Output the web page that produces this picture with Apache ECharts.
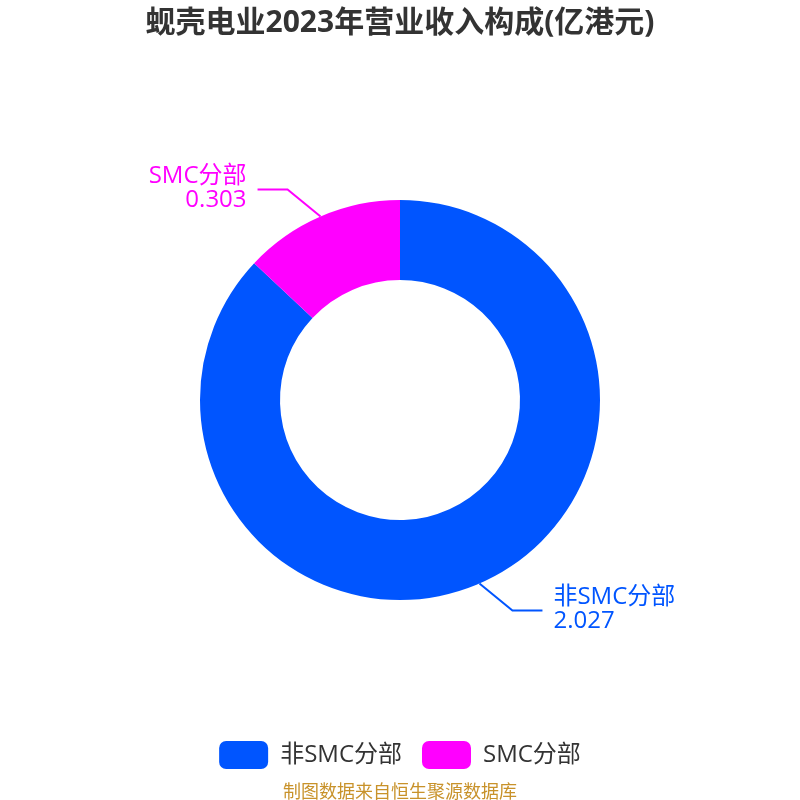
<!DOCTYPE html>
<html><head><meta charset="utf-8">
<script src="https://cdn.jsdelivr.net/npm/echarts@6/dist/echarts.min.js"></script>
<style>html,body{margin:0;padding:0;background:#fff}#c{width:800px;height:800px}</style>
</head><body><div id="c"></div>
<script>
const titleText = '蚬壳电业2023年营业收入构成(亿港元)';
const categories = ['非SMC分部', 'SMC分部'];
const values = [2.027, 0.303];
const colors = ['#0055FF', '#FF00FF'];
const sourceText = '制图数据来自恒生聚源数据库';
const FONT = '"Open Sans", "Noto Sans CJK SC", sans-serif';

const chart = echarts.init(document.getElementById('c'));
chart.setOption({
  backgroundColor: '#fff',
  animation: false,
  title: [{
    text: titleText, left: 'center', top: 3,
    textStyle: {fontSize: 30, fontWeight: 'bold', color: '#333', fontFamily: FONT}
  }, {
    text: sourceText, left: 'center', top: 778,
    textStyle: {fontSize: 18, fontWeight: 'normal', color: '#C8922A', fontFamily: FONT, lineHeight: 20}
  }],
  legend: {
    bottom: 26, left: 'center', itemWidth: 49, itemHeight: 28, itemGap: 20,
    textStyle: {fontSize: 24, color: '#333', fontFamily: FONT, padding: [0, 0, 0, 7]},
    data: categories
  },
  series: [{
    type: 'pie', center: [400, 400], radius: [120, 200],
    clockwise: true, startAngle: 90,
    data: categories.map((c, i) => ({name: c, value: values[i], itemStyle: {color: colors[i]}})),
    label: {
      formatter: '{b}\n{c}', fontSize: 24, lineHeight: 24, color: 'inherit',
      fontFamily: FONT
    },
    labelLine: {length: 42, length2: 30, lineStyle: {width: 2}},
    labelLayout: function (p) {
      const pts = p.labelLinePoints;
      if (!pts) return {};
      const s = pts[0];
      const hx = Math.sign(pts[2][0] - pts[1][0]) || 1;
      const vy = Math.sign(pts[1][1] - s[1]) || 1;
      const elbow = [s[0] + hx * 33, s[1] + vy * 27];
      const end = [elbow[0] + hx * 30, elbow[1]];
      return {
        x: end[0] + hx * 11,
        y: elbow[1] - 1,
        align: hx > 0 ? 'left' : 'right',
        verticalAlign: 'middle',
        labelLinePoints: [s, elbow, end]
      };
    }
  }]
});
</script></body></html>
